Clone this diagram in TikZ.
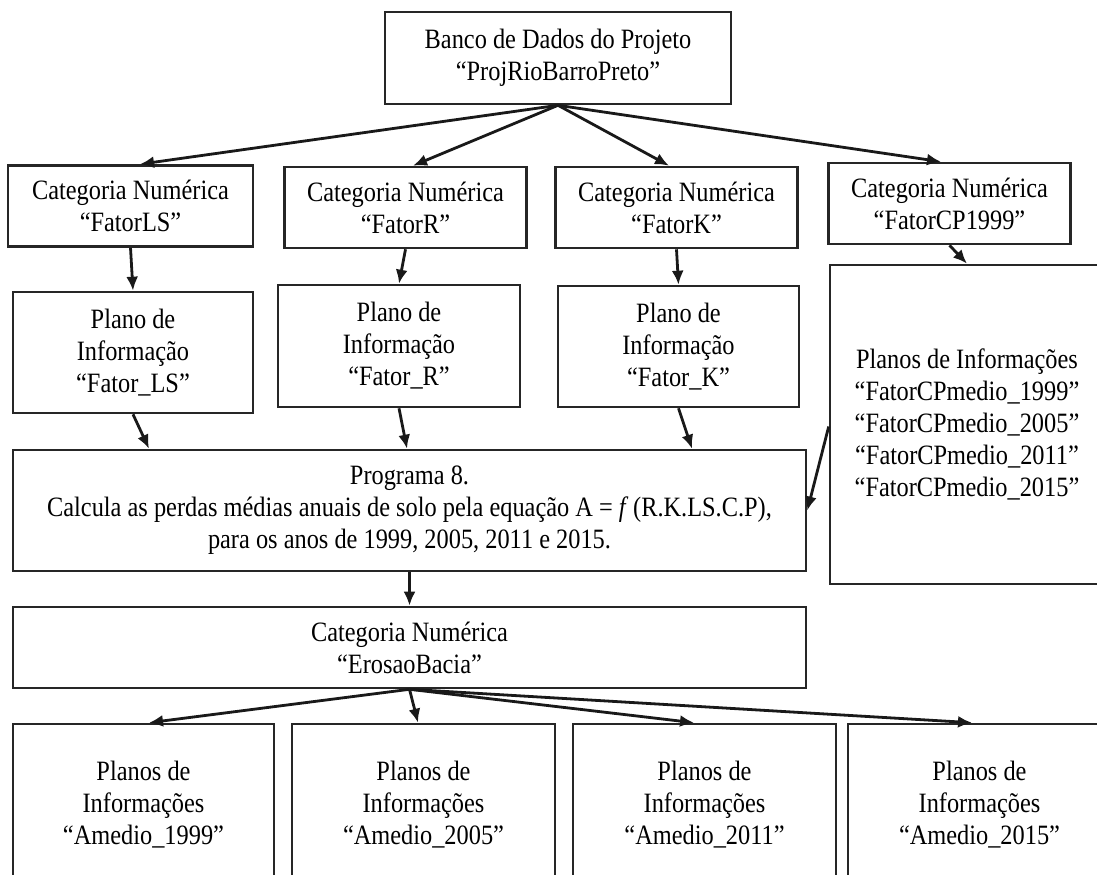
\documentclass[tikz,border=0pt]{standalone}
\usepackage{fontspec}
\setmainfont{Liberation Serif}[FakeStretch=0.87]
\usetikzlibrary{arrows.meta,calc}
\tikzset{
  box/.style={draw=black!85, line width=1.3pt, fill=white, inner sep=0pt,
              align=center, font=\fontsize{14}{16}\selectfont},
  catbox/.style={box, minimum width=121pt, minimum height=40.5pt},
  infobox/.style={box, minimum width=120.5pt, minimum height=60.5pt},
  wideBox/.style={box, minimum width=396.5pt},
  amediobox/.style={box, minimum width=131.5pt, minimum height=81pt},
  flow/.style={-{Latex[length=7pt,width=6pt]}, line width=1.4pt, black!90},
}

\begin{document}
\begin{tikzpicture}[x=0.5pt,y=0.5pt]
  \path[use as bounding box] (0,0) rectangle (1097,874);
  \fill[white] (0,0) rectangle (1097,874);

  % project database
  \node[box, minimum width=173pt, minimum height=46pt] (bank) at (558,816)
    {Banco de Dados do Projeto\\``ProjRioBarroPreto''};

  % numeric categories
  \node[catbox, minimum width=122.5pt] (catLS) at (130.5,668) {Categoria Numérica\\``FatorLS''};
  \node[catbox] (catR) at (405.5,666.5) {Categoria Numérica\\``FatorR''};
  \node[catbox] (catK) at (676.5,666.5) {Categoria Numérica\\``FatorK''};
  \node[catbox] (catCP) at (949.5,670.5) {Categoria Numérica\\``FatorCP1999''};
  \draw[flow] (bank.south) -- ($(catLS.north)+(9.5,0)$);
  \draw[flow] (bank.south) -- ($(catR.north)+(7.5,0)$);
  \draw[flow] (bank.south) -- ($(catK.north)+(-7.5,0)$);
  \draw[flow] (bank.south) -- ($(catCP.north)+(-8.5,0)$);

  % information planes
  \node[infobox, minimum width=120pt] (infoLS) at (133,521.5) {Plano de\\Informação\\``Fator\_LS''};
  \node[infobox, minimum width=121pt, minimum height=61pt] (infoR) at (399,528) {Plano de\\Informação\\``Fator\_R''};
  \node[infobox] (infoK) at (678.5,527.5) {Plano de\\Informação\\``Fator\_K''};
  \node[box, minimum width=137pt, minimum height=159.5pt] (infoCP) at (967,449.5)
    {Planos de Informações\\``FatorCPmedio\_1999''\\``FatorCPmedio\_2005''\\``FatorCPmedio\_2011''\\``FatorCPmedio\_2015''};
  \draw[flow] (catLS.south) -- (infoLS.north);
  \draw[flow] (catR.south) -- (infoR.north);
  \draw[flow] (catK.south) -- (infoK.north);
  \draw[flow] (catCP.south) -- (infoCP.north);

  % program 8
  \node[wideBox, minimum height=60.5pt] (prog) at (409.5,363.5)
    {Programa 8.\\Calcula as perdas médias anuais de solo pela equação A = \textit{f}\,(R.K.LS.C.P),\\para os anos de 1999, 2005, 2011 e 2015.};
  \draw[flow] (infoLS.south) -- ($(infoLS.south |- prog.north)+(16,0)$);
  \draw[flow] (infoR.south) -- ($(infoR.south |- prog.north)+(8,0)$);
  \draw[flow] (infoK.south) -- ($(infoK.south |- prog.north)+(13.5,0)$);
  \draw[flow] ($(infoCP.west)+(0,-2)$) -- (prog.east);

  % erosion category
  \node[wideBox, minimum height=40.5pt] (erosao) at (409.5,226.5)
    {Categoria Numérica\\``ErosaoBacia''};
  \draw[flow] (prog.south) -- (erosao.north);

  % yearly planes
  \node[amediobox, minimum width=130.5pt] (am1999) at (143.5,69) {Planos de\\Informações\\``Amedio\_1999''};
  \node[amediobox] (am2005) at (423.5,69) {Planos de\\Informações\\``Amedio\_2005''};
  \node[amediobox] (am2011) at (704.5,69) {Planos de\\Informações\\``Amedio\_2011''};
  \node[amediobox] (am2015) at (979.5,69) {Planos de\\Informações\\``Amedio\_2015''};
  \draw[flow] (erosao.south) -- ($(am1999.north)+(5.5,0)$);
  \draw[flow] (erosao.south) -- ($(am2005.north)+(-5.5,0)$);
  \draw[flow] (erosao.south) -- ($(am2011.north)+(-10.5,0)$);
  \draw[flow] (erosao.south) -- ($(am2015.north)+(-7.5,0)$);
\end{tikzpicture}
\end{document}
